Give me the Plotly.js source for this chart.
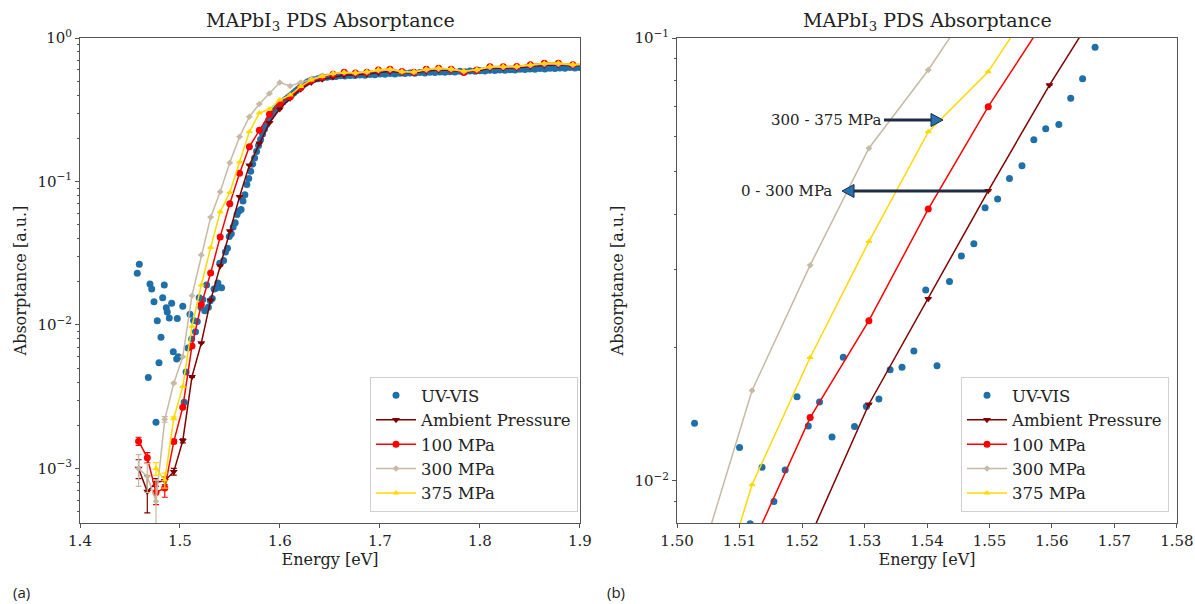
<!DOCTYPE html>
<html><head><meta charset="utf-8">
<script src="https://cdn.plot.ly/plotly-3.0.1.min.js"></script>
<style>html,body{margin:0;padding:0;background:#fff}#chart{width:1195px;height:604px}</style>
</head><body><div id="chart"></div>
<script>
// PDS measurement energies (eV), 850 nm -> 650 nm in 5 nm steps
const pdsEnergy = [1.4586, 1.4673, 1.4760, 1.4848, 1.4938, 1.5028, 1.5120, 1.5213, 1.5307, 1.5402,
  1.5498, 1.5596, 1.5694, 1.5794, 1.5895, 1.5998, 1.6102, 1.6207, 1.6314, 1.6422,
  1.6531, 1.6642, 1.6755, 1.6869, 1.6984, 1.7101, 1.7220, 1.7340, 1.7463, 1.7587,
  1.7712, 1.7839, 1.7969, 1.8100, 1.8233, 1.8368, 1.8505, 1.8644, 1.8785, 1.8929, 1.9074];

const ambient = [0.00100, 0.00069, 0.00080, 0.00082, 0.00095, 0.00156, 0.00436, 0.00748, 0.0149, 0.0258,
  0.0452, 0.0783, 0.130, 0.1845, 0.257, 0.320, 0.380, 0.440, 0.490, 0.515,
  0.535, 0.550, 0.555, 0.560, 0.575, 0.585, 0.575, 0.570, 0.590, 0.598,
  0.595, 0.580, 0.590, 0.615, 0.618, 0.620, 0.632, 0.645, 0.648, 0.640, 0.645];
const ambientErr = [0.00015, 0.00020, 0.00005, 0.00005, 0.00005, 0.00005, 0.00005, 0, 0, 0,
  0, 0, 0, 0, 0, 0, 0, 0, 0, 0, 0, 0, 0, 0, 0, 0, 0, 0, 0, 0, 0, 0, 0, 0, 0, 0, 0, 0, 0, 0, 0];

const mpa100 = [0.00155, 0.00119, 0.00068, 0.00073, 0.00154, 0.00267, 0.00714, 0.0139, 0.0230, 0.0411,
  0.070, 0.114, 0.175, 0.228, 0.294, 0.351, 0.390, 0.450, 0.505, 0.535,
  0.560, 0.577, 0.570, 0.578, 0.598, 0.605, 0.585, 0.578, 0.605, 0.615,
  0.605, 0.575, 0.598, 0.631, 0.631, 0.633, 0.650, 0.667, 0.667, 0.650, 0.660];
const mpa100Err = [0.00010, 0.00010, 0.00012, 0.00010, 0.00005, 0.00005, 0, 0, 0, 0,
  0, 0, 0, 0, 0, 0, 0, 0, 0, 0, 0, 0, 0, 0, 0, 0, 0, 0, 0, 0, 0, 0, 0, 0, 0, 0, 0, 0, 0, 0, 0];

const mpa300 = [0.00100, 0.00088, 0.00059, 0.00220, 0.00393, 0.0060, 0.0160, 0.0307, 0.0564, 0.0847,
  0.135, 0.205, 0.283, 0.347, 0.410, 0.489, 0.463, 0.490, 0.520, 0.545,
  0.565, 0.575, 0.570, 0.580, 0.595, 0.600, 0.585, 0.580, 0.600, 0.610,
  0.605, 0.585, 0.600, 0.625, 0.628, 0.630, 0.645, 0.660, 0.660, 0.648, 0.655];
const mpa300Err = [0.00025, 0.00020, 0.00024, 0.00010, 0.00005, 0, 0, 0, 0, 0,
  0, 0, 0, 0, 0, 0, 0, 0, 0, 0, 0, 0, 0, 0, 0, 0, 0, 0, 0, 0, 0, 0, 0, 0, 0, 0, 0, 0, 0, 0, 0];

const mpa375 = [null, null, 0.00100, 0.00083, 0.00224, 0.00372, 0.0098, 0.0190, 0.0347, 0.0614,
  0.0839, 0.137, 0.222, 0.300, 0.320, 0.370, 0.400, 0.460, 0.510, 0.540,
  0.565, 0.575, 0.572, 0.580, 0.600, 0.607, 0.583, 0.580, 0.607, 0.617,
  0.607, 0.588, 0.600, 0.633, 0.633, 0.633, 0.650, 0.668, 0.670, 0.655, 0.660];
const mpa375Err = [0, 0, 0.00010, 0.00010, 0.00005, 0, 0, 0, 0, 0,
  0, 0, 0, 0, 0, 0, 0, 0, 0, 0, 0, 0, 0, 0, 0, 0, 0, 0, 0, 0, 0, 0, 0, 0, 0, 0, 0, 0, 0, 0, 0];

// UV-VIS absorptance
const uvEnergy = [1.4573, 1.4593, 1.4683, 1.4700, 1.4717, 1.4740, 1.4760, 1.4773, 1.4790, 1.4810,
  1.4827, 1.4843, 1.4863, 1.4873, 1.4893, 1.4917, 1.4933, 1.4967, 1.4973, 1.4983,
  1.5028, 1.5042, 1.5061, 1.5080, 1.5100, 1.5117, 1.5136, 1.5155, 1.5173, 1.5192,
  1.5210, 1.5228, 1.5248, 1.5266, 1.5284, 1.5303, 1.5323, 1.5341, 1.5360, 1.5379,
  1.5398, 1.5416, 1.5436, 1.5455, 1.5475, 1.5493, 1.5513, 1.5532, 1.5552, 1.5571,
  1.5590, 1.5611, 1.5630, 1.5649, 1.5669, 1.5688, 1.5707, 1.5727, 1.5746, 1.5766,
  1.5786, 1.5806, 1.5826, 1.5846, 1.5866, 1.5887, 1.5907, 1.5927, 1.5948, 1.5969,
  1.5989, 1.6010, 1.6031, 1.6052, 1.6073, 1.6094, 1.6116, 1.6137, 1.6159, 1.6180,
  1.6202, 1.6224, 1.6246, 1.6268, 1.6290, 1.6312, 1.6335, 1.6380, 1.6425, 1.6470,
  1.6515, 1.6560, 1.6605, 1.6650, 1.6700, 1.6750, 1.6800, 1.6850, 1.6900, 1.6950,
  1.7000, 1.7050, 1.7100, 1.7150, 1.7200, 1.7250, 1.7300, 1.7350, 1.7400, 1.7450,
  1.7500, 1.7550, 1.7600, 1.7650, 1.7700, 1.7750, 1.7800, 1.7850, 1.7900, 1.7950,
  1.8000, 1.8050, 1.8100, 1.8150, 1.8200, 1.8250, 1.8300, 1.8350, 1.8400, 1.8450,
  1.8500, 1.8550, 1.8600, 1.8650, 1.8700, 1.8750, 1.8800, 1.8850, 1.8900, 1.8950, 1.9000];
const uvAbs = [0.0229, 0.0265, 0.0043, 0.0193, 0.0178, 0.0145, 0.0021, 0.0107, 0.00546, 0.0082,
  0.0155, 0.0190, 0.0132, 0.0123, 0.0112, 0.0142, 0.0065, 0.0058, 0.0111, 0.0060,
  0.0135, 0.0029, 0.0047, 0.0069, 0.0119, 0.0080, 0.01074, 0.00898, 0.01059, 0.01549,
  0.0133, 0.01507, 0.01256, 0.01901, 0.01327, 0.01473, 0.01531, 0.01782, 0.01806, 0.01965,
  0.02698, 0.0182, 0.0282, 0.0322, 0.0343, 0.0414, 0.0433, 0.0482, 0.0515, 0.0589,
  0.0624, 0.0638, 0.0731, 0.0809, 0.0953, 0.105, 0.118, 0.132, 0.146, 0.162,
  0.178, 0.196, 0.214, 0.232, 0.250, 0.268, 0.284, 0.298, 0.312, 0.325,
  0.337, 0.349, 0.360, 0.371, 0.381, 0.391, 0.402, 0.414, 0.427, 0.440,
  0.452, 0.465, 0.478, 0.490, 0.499, 0.506, 0.512, 0.520, 0.527, 0.532,
  0.537, 0.540, 0.545, 0.544, 0.549, 0.548, 0.553, 0.551, 0.557, 0.555,
  0.561, 0.559, 0.565, 0.562, 0.567, 0.565, 0.571, 0.568, 0.574, 0.571,
  0.577, 0.574, 0.580, 0.577, 0.583, 0.580, 0.586, 0.583, 0.589, 0.586,
  0.592, 0.589, 0.596, 0.593, 0.599, 0.596, 0.602, 0.599, 0.606, 0.603,
  0.609, 0.606, 0.612, 0.609, 0.615, 0.612, 0.619, 0.616, 0.622, 0.619, 0.624];

// tick labels
const xTicksA = [1.4, 1.5, 1.6, 1.7, 1.8, 1.9];
const xTicksB = [1.50, 1.51, 1.52, 1.53, 1.54, 1.55, 1.56, 1.57, 1.58];
const yTicksA = [0.001, 0.01, 0.1, 1];
const yTextA = ['10<sup>−3</sup>', '10<sup>−2</sup>', '10<sup>−1</sup>', '10<sup>0</sup>'];
const yMinorA = [0.0005, 0.0006, 0.0007, 0.0008, 0.0009, 0.002, 0.003, 0.004, 0.005, 0.006, 0.007, 0.008, 0.009,
  0.02, 0.03, 0.04, 0.05, 0.06, 0.07, 0.08, 0.09, 0.2, 0.3, 0.4, 0.5, 0.6, 0.7, 0.8, 0.9];
const yTicksB = [0.01, 0.1];
const yTextB = ['10<sup>−2</sup>', '10<sup>−1</sup>'];
const yMinorB = [0.009, 0.02, 0.03, 0.04, 0.05, 0.06, 0.07, 0.08, 0.09];

const W = 1195, H = 604;
const DX = -3; // small left shift of panel (b) so its last tick label fits
const SERIF = 'DejaVu Serif, serif';
const TXT = '#222222';
const AX = '#555555';
const C = {uv: '#1f6fa8', amb: '#800000', p100: '#ff0000', p300: '#c7b9a3', p375: '#ffd900'};

const pds = [
  {name: 'Ambient Pressure', y: ambient, e: ambientErr, color: C.amb, symbol: 'triangle-down', size: 7},
  {name: '100 MPa', y: mpa100, e: mpa100Err, color: C.p100, symbol: 'circle', size: 7},
  {name: '300 MPa', y: mpa300, e: mpa300Err, color: C.p300, symbol: 'diamond', size: 5},
  {name: '375 MPa', y: mpa375, e: mpa375Err, color: C.p375, symbol: 'triangle-up', size: 6}
];

const traces = [];
[['x', 'y', 'legend'], ['x2', 'y2', 'legend2']].forEach(([xa, ya, lg]) => {
  traces.push({type: 'scatter', mode: 'markers', name: 'UV-VIS', x: uvEnergy, y: uvAbs,
    xaxis: xa, yaxis: ya, legend: lg,
    marker: {color: C.uv, size: 7}});
  pds.forEach(s => {
    traces.push({type: 'scatter', mode: 'lines+markers', name: s.name, x: pdsEnergy, y: s.y,
      xaxis: xa, yaxis: ya, legend: lg,
      line: {color: s.color, width: 1.5},
      marker: {color: s.color, size: s.size, symbol: s.symbol},
      error_y: {type: 'data', array: s.e, visible: true, color: s.color, thickness: 1.2, width: 3}});
  });
});

const axisCommon = {
  showline: true, linecolor: AX, linewidth: 1, mirror: true,
  ticks: 'outside', ticklen: 4, tickcolor: AX, tickwidth: 1,
  showgrid: false, zeroline: false, ticklabeloverflow: 'allow',
  tickfont: {family: SERIF, size: 15, color: TXT}
};
const yBottom = 1 - 523 / H, yTop = 1 - 38 / H;

const legendCommon = {
  xanchor: 'right', yanchor: 'bottom',
  bgcolor: 'rgba(255,255,255,0.85)', bordercolor: '#d0d0d0', borderwidth: 1,
  font: {family: SERIF, size: 16.5, color: TXT}, tracegroupgap: 0, itemwidth: 40
};

function arrowShapes(x0, x1, yPix, headLeft) {
  const y = 1 - yPix / H;
  const dir = headLeft ? -1 : 1;
  const tip = x1, base = x1 - dir * 12;
  const hh = 6.5 / H;
  return [
    {type: 'line', xref: 'paper', yref: 'paper', x0: x0 / W, x1: base / W, y0: y, y1: y,
      line: {color: '#1e2d45', width: 3}},
    {type: 'path', xref: 'paper', yref: 'paper',
      path: `M ${tip / W} ${y} L ${base / W} ${y + hh} L ${base / W} ${y - hh} Z`,
      fillcolor: '#2473b0', line: {color: '#1e2d45', width: 1}}
  ];
}

const layout = {
  width: W, height: H,
  margin: {l: 0, r: 0, t: 0, b: 0},
  paper_bgcolor: '#ffffff', plot_bgcolor: '#ffffff',
  showlegend: true,
  xaxis: Object.assign({}, axisCommon, {
    domain: [80 / W, 580 / W], anchor: 'y', range: [1.4, 1.9001],
    tickvals: xTicksA, tickformat: '.1f',
    title: {text: 'Energy [eV]', font: {family: SERIF, size: 16, color: TXT}, standoff: 4}
  }),
  yaxis: Object.assign({}, axisCommon, {
    domain: [yBottom, yTop], anchor: 'x', type: 'log', range: [-3.38, 0.0001],
    tickvals: yTicksA, ticktext: yTextA,
    minor: {tickvals: yMinorA, ticks: 'outside', ticklen: 2, tickcolor: AX},
    title: {text: 'Absorptance [a.u.]', font: {family: SERIF, size: 16, color: TXT}, standoff: 6}
  }),
  xaxis2: Object.assign({}, axisCommon, {
    domain: [(680 + DX) / W, (1180 + DX) / W], anchor: 'y2', range: [1.49999, 1.58001],
    tickvals: xTicksB, tickformat: '.2f',
    title: {text: 'Energy [eV]', font: {family: SERIF, size: 16, color: TXT}, standoff: 4}
  }),
  yaxis2: Object.assign({}, axisCommon, {
    domain: [yBottom, yTop], anchor: 'x2', type: 'log', range: [-2.095, -0.9999],
    tickvals: yTicksB, ticktext: yTextB,
    minor: {tickvals: yMinorB, ticks: 'outside', ticklen: 2, tickcolor: AX},
    title: {text: 'Absorptance [a.u.]', font: {family: SERIF, size: 16, color: TXT}, standoff: 6}
  }),
  legend: Object.assign({}, legendCommon, {x: 578 / W, y: 1 - 512 / H}),
  legend2: Object.assign({}, legendCommon, {x: (1172 + DX) / W, y: 1 - 512 / H}),
  annotations: [
    {text: 'MAPbI<sub>3</sub> PDS Absorptance', xref: 'paper', yref: 'paper', x: 330 / W, y: 1 - 22 / H,
      xanchor: 'center', yanchor: 'middle', showarrow: false, font: {family: SERIF, size: 19, color: TXT}},
    {text: 'MAPbI<sub>3</sub> PDS Absorptance', xref: 'paper', yref: 'paper', x: (930 + DX) / W, y: 1 - 22 / H,
      xanchor: 'center', yanchor: 'middle', showarrow: false, font: {family: SERIF, size: 19, color: TXT}},
    {text: '300 - 375 MPa', xref: 'paper', yref: 'paper', x: (886 + DX) / W, y: 1 - 120 / H,
      xanchor: 'right', yanchor: 'middle', showarrow: false, font: {family: SERIF, size: 15, color: TXT}},
    {text: '0 - 300 MPa', xref: 'paper', yref: 'paper', x: (837 + DX) / W, y: 1 - 191 / H,
      xanchor: 'right', yanchor: 'middle', showarrow: false, font: {family: SERIF, size: 15, color: TXT}},
    {text: '(a)', xref: 'paper', yref: 'paper', x: 11 / W, y: 1 - 592 / H,
      xanchor: 'left', yanchor: 'middle', showarrow: false, font: {family: 'Open Sans, sans-serif', size: 15, color: TXT}},
    {text: '(b)', xref: 'paper', yref: 'paper', x: 605 / W, y: 1 - 592 / H,
      xanchor: 'left', yanchor: 'middle', showarrow: false, font: {family: 'Open Sans, sans-serif', size: 15, color: TXT}}
  ],
  shapes: [].concat(arrowShapes(887 + DX, 946 + DX, 120, false), arrowShapes(990 + DX, 845 + DX, 191, true))
};

Plotly.newPlot('chart', traces, layout, {displayModeBar: false, staticPlot: true});
</script>
</body></html>
